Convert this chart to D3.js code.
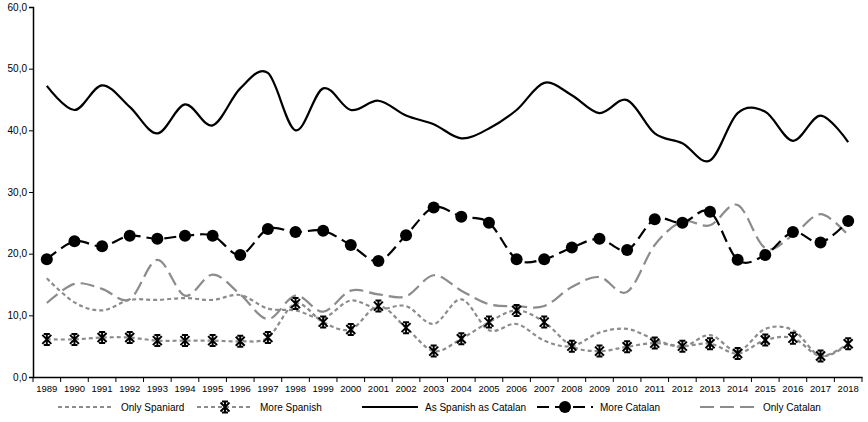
<!DOCTYPE html>
<html>
<head>
<meta charset="utf-8">
<script src="https://cdn.jsdelivr.net/npm/d3@7"></script>
<style>
  body { margin: 0; background: #fff; }
  text { font-family: "Liberation Sans", Arial, sans-serif; fill: #000; }
</style>
</head>
<body>
<div class="canvas"></div>
<script>
const w = 868;
const h = 422;
const margin = {top: 7, right: 6, bottom: 45, left: 33};

const years = d3.range(1989, 2019).map(String);
const yTicks = [0, 10, 20, 30, 40, 50, 60];

const onlySpaniard = [16.0, 12.1, 10.8, 12.5, 12.5, 12.8, 12.5, 13.3, 11.1, 10.8,
  9.6, 12.4, 11.0, 11.5, 8.6, 12.6, 7.6, 8.6, 5.9, 5.0,
  7.2, 7.8, 6.1, 4.9, 6.8, 4.2, 7.8, 7.6, 3.4, 5.3];
const moreSpanish = [6.1, 6.1, 6.4, 6.4, 5.9, 5.9, 5.9, 5.8, 6.4, 11.9,
  8.9, 7.7, 11.5, 8.0, 4.2, 6.2, 8.9, 10.8, 8.9, 5.0,
  4.2, 4.9, 5.5, 5.0, 5.4, 3.8, 6.0, 6.3, 3.4, 5.4];
const asSpanishAsCatalan = [47.2, 43.3, 47.3, 43.8, 39.5, 44.2, 40.8, 46.8, 49.3, 40.0,
  46.8, 43.3, 44.8, 42.4, 41.0, 38.7, 40.3, 43.3, 47.7, 45.7,
  42.8, 44.9, 39.5, 37.9, 35.1, 42.8, 43.0, 38.3, 42.4, 38.1];
const moreCatalan = [19.1, 22.0, 21.2, 22.9, 22.4, 22.9, 22.9, 19.8, 24.0, 23.5,
  23.7, 21.4, 18.8, 23.0, 27.5, 26.0, 25.0, 19.1, 19.1, 21.0,
  22.4, 20.6, 25.6, 25.0, 26.8, 19.0, 19.8, 23.5, 21.8, 25.3];
const onlyCatalan = [12.0, 15.1, 14.3, 12.6, 19.0, 13.2, 16.6, 13.4, 9.4, 13.2,
  10.6, 14.0, 13.4, 13.1, 16.5, 14.0, 11.8, 11.5, 11.5, 14.6,
  16.2, 13.8, 21.4, 25.2, 24.6, 27.9, 20.9, 23.0, 26.4, 23.0];

const grey = "#8c8c8c";

const svg = d3.select(".canvas")
  .append("svg")
  .attr("width", w)
  .attr("height", h);

const x = d3.scaleBand()
  .domain(years)
  .range([margin.left, w - margin.right]);

const y = d3.scaleLinear()
  .domain([0, 60])
  .range([h - margin.bottom, margin.top]);

// axes
const yAxis = svg.append("g")
  .attr("transform", "translate(" + margin.left + ",0)")
  .call(d3.axisLeft(y).tickValues(yTicks).tickSize(4).tickFormat(d => d3.format(".1f")(d).replace(".", ",")));
yAxis.select(".domain").attr("stroke", "#000").attr("stroke-width", 1.5);
yAxis.selectAll("text").style("font-size", "10px").attr("x", -6);

const xAxis = svg.append("g")
  .attr("transform", "translate(0," + y(0) + ")")
  .call(d3.axisBottom(x).tickSize(0).tickPadding(8));
xAxis.select(".domain").attr("stroke", "#000").attr("stroke-width", 1.5);
xAxis.selectAll("text").style("font-size", "9.5px");

// tick marks between categories
xAxis.selectAll(".between")
  .data(d3.range(years.length + 1))
  .enter().append("line")
  .attr("x1", i => margin.left + i * x.step())
  .attr("x2", i => margin.left + i * x.step())
  .attr("y1", 0)
  .attr("y2", 5)
  .attr("stroke", "#000");

const line = d3.line()
  .x((d, i) => x(years[i]) + x.bandwidth() / 2)
  .y(d => y(d))
  .curve(d3.curveCardinal.tension(0));

const series = [
  {name: "Only Spaniard", values: onlySpaniard, color: grey, dash: "4,3", marker: null},
  {name: "More Spanish", values: moreSpanish, color: grey, dash: "4,3", marker: "star"},
  {name: "As Spanish as Catalan", values: asSpanishAsCatalan, color: "#000", dash: null, marker: null},
  {name: "More Catalan", values: moreCatalan, color: "#000", dash: "12,6", marker: "dot"},
  {name: "Only Catalan", values: onlyCatalan, color: grey, dash: "14,6", marker: null}
];

function starPath(s) {
  return "M" + (-s) + "," + (-s) + "L" + s + "," + s +
    "M" + (-s) + "," + s + "L" + s + "," + (-s) +
    "M0," + (-s - 1) + "L0," + (s + 1) +
    "M" + (-s) + "," + (-s - 1) + "L" + (s * 0.2 - s * 0.2 + s) + "," + (-s - 1) + "";
}

function drawMarker(g, type, cx, cy) {
  if (type === "dot") {
    g.append("circle").attr("cx", cx).attr("cy", cy).attr("r", 6).attr("fill", "#000");
  } else if (type === "star") {
    g.append("path")
      .attr("d", "M-4.5,-4.5L4.5,4.5M-4.5,4.5L4.5,-4.5M0,-5.5L0,5.5M-3,-5.5L3,-5.5M-3,5.5L3,5.5")
      .attr("transform", "translate(" + cx + "," + cy + ")")
      .attr("stroke", "#000")
      .attr("stroke-width", 2)
      .attr("fill", "none");
  }
}

const plot = svg.append("g");

// draw grey ones first, then black
const order = [4, 0, 1, 2, 3];
order.forEach(k => {
  const s = series[k];
  plot.append("path")
    .datum(s.values)
    .attr("d", line)
    .attr("fill", "none")
    .attr("stroke", s.color)
    .attr("stroke-width", 2.2)
    .attr("stroke-dasharray", s.dash);
  if (s.marker) {
    s.values.forEach((v, i) => drawMarker(plot, s.marker, x(years[i]) + x.bandwidth() / 2, y(v)));
  }
});

// Legend
const legendX = [58, 197, 362, 537, 700];
const legend = svg.append("g").attr("class", "legend");
series.forEach((s, i) => {
  const g = legend.append("g").attr("transform", "translate(" + legendX[i] + ",407)");
  g.append("line")
    .attr("x1", 0).attr("x2", 56)
    .attr("y1", 0).attr("y2", 0)
    .attr("stroke", s.color)
    .attr("stroke-width", 2.2)
    .attr("stroke-dasharray", s.dash);
  if (s.marker) drawMarker(g, s.marker === "dot" ? "dot" : "star", 28, 0);
  g.append("text")
    .attr("x", 63)
    .attr("y", 0)
    .attr("dy", "0.35em")
    .style("font-size", "10px")
    .text(s.name);
});
</script>
</body>
</html>
